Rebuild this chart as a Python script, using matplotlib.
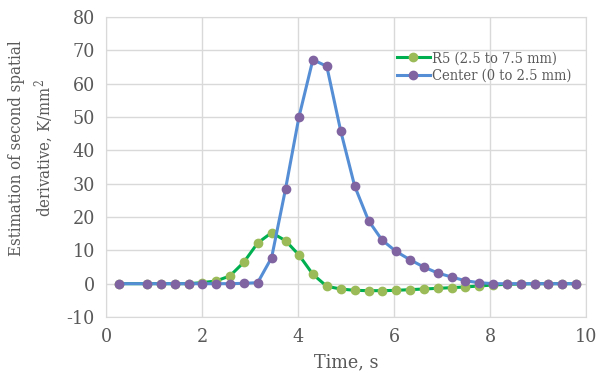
import matplotlib
matplotlib.use('Agg')
import matplotlib.pyplot as plt

# time stamps (s)
time_s = [0.28, 0.86, 1.14, 1.43, 1.72, 2.00, 2.29, 2.58, 2.87, 3.16, 3.45,
          3.74, 4.02, 4.31, 4.60, 4.89, 5.18, 5.47, 5.75, 6.04, 6.33, 6.62,
          6.91, 7.20, 7.48, 7.77, 8.06, 8.35, 8.64, 8.93, 9.21, 9.50, 9.79]

# R5 (2.5 to 7.5 mm)
r5 = [0.0, 0.0, 0.0, 0.0, 0.0, 0.3, 0.8, 2.3, 6.4, 12.2, 15.3,
      12.9, 8.6, 2.8, -0.8, -1.6, -2.0, -2.1, -2.1, -2.0, -1.8, -1.6,
      -1.4, -1.2, -1.0, -0.7, -0.4, -0.2, -0.1, 0.0, 0.0, 0.0, 0.0]

# Center (0 to 2.5 mm)
center = [0.0, 0.0, 0.0, 0.0, 0.0, 0.0, 0.0, 0.0, 0.1, 0.3, 7.8,
          28.4, 50.0, 67.2, 65.2, 45.8, 29.3, 18.9, 13.1, 9.7, 7.2, 5.0,
          3.2, 2.0, 0.9, 0.3, 0.0, 0.0, 0.0, 0.0, 0.0, 0.0, 0.0]

xticks = [0, 2, 4, 6, 8, 10]
yticks = [-10, 0, 10, 20, 30, 40, 50, 60, 70, 80]

plt.rcParams['font.family'] = ['DejaVu Serif']
plt.rcParams['font.stretch'] = 'condensed'
plt.rcParams['axes.unicode_minus'] = False
plt.rcParams['mathtext.fontset'] = 'dejavuserif'
txt = '#595959'
grid = '#d9d9d9'

fig = plt.figure(figsize=(5.98, 3.81), dpi=100)
ax = fig.add_axes([106/598, 1-317/381, 480/598, 300/381])

ax.plot(time_s, r5, color='#00b050', lw=2.2, marker='o', ms=6,
        mfc='#9bbb59', mec='#9bbb59', label='R5 (2.5 to 7.5 mm)', zorder=3)
ax.plot(time_s, center, color='#558ed5', lw=2.2, marker='o', ms=6,
        mfc='#8064a2', mec='#8064a2', label='Center (0 to 2.5 mm)', zorder=4)

ax.set_xlim(0, 10)
ax.set_ylim(-10, 80)
ax.set_xticks(xticks)
ax.set_yticks(yticks)
ax.grid(True, color=grid, lw=1)
ax.set_axisbelow(True)
for s in ax.spines.values():
    s.set_color(grid)
ax.tick_params(length=0, colors=txt, labelsize=14, pad=8)
for lab in ax.get_xticklabels() + ax.get_yticklabels():
    lab.set_color(txt)

ax.set_xlabel('Time, s', fontsize=14, color=txt, labelpad=5)
fig.text(32/598, 1-148/381, 'Estimation of second spatial\nderivative, K/mm$^2$',
         rotation=90, ha='center', va='center', multialignment='center',
         fontsize=12, color=txt, linespacing=1.4)

leg = ax.legend(loc='upper left', bbox_to_anchor=(0.595, 0.905), frameon=False,
                fontsize=10.5, handlelength=2.2, handletextpad=0.2,
                labelspacing=0.25, borderaxespad=0)
for t in leg.get_texts():
    t.set_color(txt)

fig.savefig('out.png', dpi=100)
